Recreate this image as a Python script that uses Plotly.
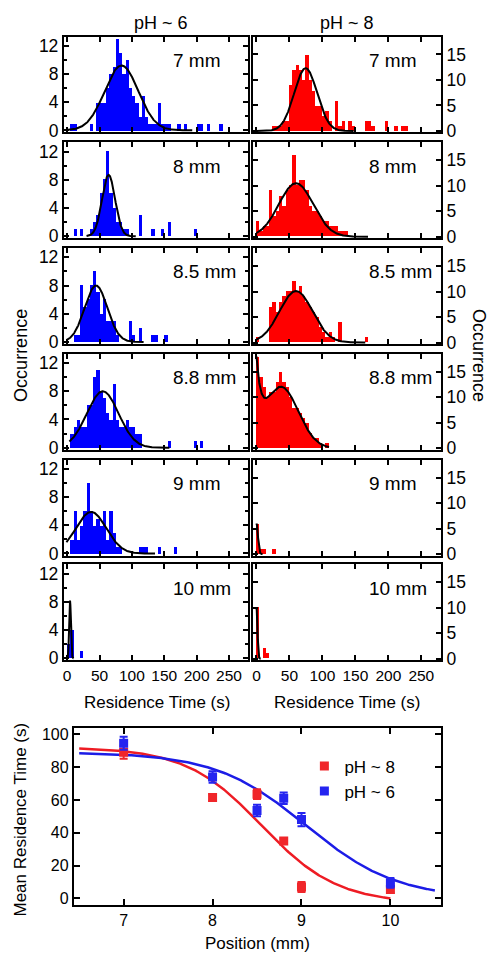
import numpy as np
import plotly.graph_objects as go

# ---------------- data ----------------
BIN_W = 5  # s, histogram bin width (bins start at 0)
positions = ["7 mm", "8 mm", "8.5 mm", "8.8 mm", "9 mm", "10 mm"]

# occurrence per 5 s bin, pH ~ 6 (blue)
ph6_7 = [0, 1, 1, 0, 0, 0, 0, 1, 0, 4, 4, 4, 6, 8, 9, 13, 11, 8, 10, 6,
         5, 4, 2, 5, 2, 1, 1, 1, 4, 1, 1, 1, 0, 0, 1, 0, 1, 0, 0, 0,
         1, 1, 0, 1, 0, 0, 0, 1]
ph6_8 = [0, 0, 1, 0, 1, 0, 0, 1, 2, 3, 6, 8, 12, 6, 4, 2, 2, 1, 1, 0,
         0, 0, 3, 0, 0, 0, 1, 0, 0, 1, 0, 2, 0, 0, 0, 0, 0, 0, 0, 1]
ph6_85 = [0, 0, 1, 1, 8, 5, 6, 8, 10, 7, 4, 6, 3, 3, 3, 1, 0, 0, 0, 3,
          1, 0, 2, 0, 0, 0, 1, 1, 0, 0, 1]
ph6_88 = [0, 2, 3, 4, 3, 3, 6, 6, 10, 11, 8, 7, 5, 4, 9, 4, 3, 3, 4, 3,
          3, 2, 2, 0, 0, 0, 0, 0, 0, 0, 0, 1, 0, 0, 0, 0, 0, 0, 0, 1,
          0, 1]
ph6_9 = [0, 2, 6, 2, 4, 6, 10, 6, 4, 5, 4, 6, 2, 6, 3, 1, 1, 0, 0, 0,
         0, 0, 1, 1, 1, 0, 0, 0, 1, 0, 0, 0, 0, 1]
ph6_10 = [2, 4, 0, 0, 1]

# occurrence per 5 s bin, pH ~ 8 (red)
ph8_7 = [0, 0, 0, 0, 0, 1, 1, 1, 2, 2, 9, 12, 13, 12, 10, 15, 10, 8, 5, 5,
         3, 4, 2, 0, 6, 1, 2, 0, 2, 1, 0, 0, 0, 2, 2, 1, 0, 0, 0, 2,
         0, 0, 1, 0, 1, 1]
ph8_8 = [3, 1, 2, 2, 9, 4, 5, 8, 6, 9, 10, 16, 10, 11, 11, 9, 6, 5, 5, 4,
         3, 3, 2, 2, 2, 1, 1, 1]
ph8_85 = [1, 0, 0, 0, 7, 8, 6, 8, 9, 10, 10, 12, 10, 11, 9, 8, 7, 6, 5, 3,
          2, 1, 2, 1, 0, 4, 0, 0, 0, 0, 0, 0, 0, 1]
ph8_88 = [18, 14, 12, 10, 11, 11, 13, 15, 13, 12, 10, 8, 8, 7, 6, 5, 3, 2, 2, 1,
          0, 1]
ph8_9 = [6, 1, 1, 0, 0, 1]
ph8_10 = [10, 0, 2, 1]

ph6_hists = [ph6_7, ph6_8, ph6_85, ph6_88, ph6_9, ph6_10]
ph8_hists = [ph8_7, ph8_8, ph8_85, ph8_88, ph8_9, ph8_10]

# Gaussian fit parameters (center s, sigma s, amplitude)
ph6_fit_center = [84, 64, 44.6, 55, 37, 4.5]
ph6_fit_sigma = [26, 10, 17.5, 24.5, 23.5, 1.3]
ph6_fit_amp = [9.2, 8.7, 8.0, 8.0, 5.9, 8.2]
ph6_fit_start = [-1, 30, -1, 3.5, -1, 0]
ph8_fit_center = [74.6, 60, 60, 37.5, 0, 0]
ph8_fit_sigma = [17.3, 26, 25, 26, 2.2, 1.5]
ph8_fit_amp = [12.3, 10.5, 10.1, 12.0, 6.0, 10.0]
ph8_fit_start = [0, 0, 0, 0, 0, 0]
ph8_88_decay_amp = 13.8
ph8_88_decay_tau = 7.0

# Mean residence time vs position
pos_mm = [7, 8, 8.5, 8.8, 9, 10]
mean_ph8 = [89, 61.5, 63.5, 35, 7, 5.5]
err_ph8 = [4, 2, 3, 1.5, 3, 2]
mean_ph6 = [94.5, 74, 53.5, 61, 48, 9.5]
err_ph6 = [4, 3.5, 3.5, 3.5, 4, 3]
# Boltzmann sigmoid fits: (A1, A2, x0, dx, x_start, x_end)
sig_ph8 = (92, -3, 8.55, 0.426, 6.5, 10.0)
sig_ph6 = (89, 0, 9.05, 0.51, 6.5, 10.5)

# ---------------- styling ----------------
FONT = "Arial, Liberation Sans, sans-serif"
BLUE = "#0000FF"
RED = "#FF0000"
W, H = 490, 962


def px_x(p):
    return p / W


def px_y(p):
    return 1 - p / H


def gauss(x, c, s, a):
    return a * np.exp(-(x - c) ** 2 / (2 * s ** 2))


def boltz(x, a1, a2, x0, dx):
    return a2 + (a1 - a2) / (1 + np.exp((x - x0) / dx))


def ax_ids(n):
    s = "" if n == 1 else str(n)
    return "x" + s, "y" + s, "xaxis" + s, "yaxis" + s


fig = go.Figure()
layout = dict(width=W, height=H, margin=dict(l=0, r=0, t=0, b=0),
              paper_bgcolor="white", plot_bgcolor="white", bargap=0,
              font=dict(family=FONT, color="black"), showlegend=True)
annotations = []

col_dom = [(px_x(63), px_x(248)), (px_x(253), px_x(441))]
row_tops = [35, 142, 249, 356, 463, 569]
PANEL_H = 97

for row in range(6):
    for col in range(2):
        n = 2 * row + col + 1
        xs, ys, xk, yk = ax_ids(n)
        counts = (ph6_hists if col == 0 else ph8_hists)[row]
        centers = [BIN_W * i + BIN_W / 2 for i in range(len(counts))]
        color = BLUE if col == 0 else RED
        fig.add_trace(go.Bar(x=centers, y=counts, width=BIN_W, marker_color=color,
                             marker_line_width=0, xaxis=xs, yaxis=ys, showlegend=False))
        if col == 0:
            c, s, a, st = ph6_fit_center[row], ph6_fit_sigma[row], ph6_fit_amp[row], ph6_fit_start[row]
        else:
            c, s, a, st = ph8_fit_center[row], ph8_fit_sigma[row], ph8_fit_amp[row], ph8_fit_start[row]
        xe = c + 4.2 * s if (row != 3 or col == 0) else 110
        xf = np.linspace(st, xe, 400)
        yf = gauss(xf, c, s, a)
        if row == 3 and col == 1:
            yf = yf + ph8_88_decay_amp * np.exp(-xf / ph8_88_decay_tau)
        fig.add_trace(go.Scatter(x=xf, y=yf, mode="lines", line=dict(color="black", width=2),
                                 xaxis=xs, yaxis=ys, showlegend=False, hoverinfo="skip"))

        top = row_tops[row]
        xd = col_dom[col]
        yd = (px_y(top + PANEL_H), px_y(top))
        bottom_row = row == 5
        layout[xk] = dict(
            domain=list(xd), anchor=ys, range=[-5, 280] if col == 0 else [-4.5, 280],
            showline=True, linewidth=2, linecolor="black", mirror="ticks",
            ticks="inside", ticklen=5, tickwidth=1.5, tickcolor="black",
            tick0=0, dtick=50, showticklabels=bottom_row,
            tickfont=dict(size=15.5, family=FONT), showgrid=False, zeroline=False)
        ydict = dict(
            domain=list(yd), anchor=xs,
            range=[-0.3, 13.3] if col == 0 else [-0.3, 18.5],
            side="left" if col == 0 else "right",
            showline=True, linewidth=2, linecolor="black", mirror="ticks",
            ticks="inside", ticklen=5, tickwidth=1.5, tickcolor="black",
            tick0=0, dtick=4 if col == 0 else 5,
            tickfont=dict(size=17.5, family=FONT), showgrid=False, zeroline=False)
        if col == 0:
            ydict["minor"] = dict(dtick=2, ticks="inside", ticklen=3, tickwidth=1.5, tickcolor="black")
        layout[yk] = ydict

        annotations.append(dict(text=positions[row], xref=xs + " domain", yref=ys + " domain",
                                x=0.578 if col == 0 else 0.606, y=1 - 24 / PANEL_H,
                                xanchor="left", yanchor="middle", showarrow=False,
                                font=dict(size=19, family=FONT)))

# ---------------- bottom chart ----------------
xf = np.linspace(sig_ph8[4], sig_ph8[5], 300)
fig.add_trace(go.Scatter(x=xf, y=boltz(xf, *sig_ph8[:4]), mode="lines",
                         line=dict(color="#EE1C24", width=2.5), xaxis="x13", yaxis="y13",
                         showlegend=False, hoverinfo="skip"))
xf = np.linspace(sig_ph6[4], sig_ph6[5], 300)
fig.add_trace(go.Scatter(x=xf, y=boltz(xf, *sig_ph6[:4]), mode="lines",
                         line=dict(color="#1C1CE6", width=2.5), xaxis="x13", yaxis="y13",
                         showlegend=False, hoverinfo="skip"))
fig.add_trace(go.Scatter(x=pos_mm, y=mean_ph8, mode="markers", name="pH ~ 8",
                         marker=dict(symbol="square", size=9, color="#F0262A"),
                         error_y=dict(type="data", array=err_ph8, color="#F0262A", thickness=2, width=4),
                         xaxis="x13", yaxis="y13"))
fig.add_trace(go.Scatter(x=pos_mm, y=mean_ph6, mode="markers", name="pH ~ 6",
                         marker=dict(symbol="square", size=9, color="#2424F0"),
                         error_y=dict(type="data", array=err_ph6, color="#2424F0", thickness=2, width=4),
                         xaxis="x13", yaxis="y13"))

layout["xaxis13"] = dict(domain=[px_x(73), px_x(441)], anchor="y13", range=[6.44, 10.57],
                         showline=True, linewidth=2, linecolor="black", mirror="ticks",
                         ticks="inside", ticklen=6, tickwidth=1.5, tickcolor="black",
                         tick0=7, dtick=1, tickfont=dict(size=16, family=FONT),
                         showgrid=False, zeroline=False)
layout["yaxis13"] = dict(domain=[px_y(913), px_y(734)], anchor="x13", range=[-3.7, 104],
                         showline=True, linewidth=2, linecolor="black", mirror="ticks",
                         ticks="inside", ticklen=6, tickwidth=1.5, tickcolor="black",
                         tick0=0, dtick=20, tickfont=dict(size=16, family=FONT),
                         showgrid=False, zeroline=False)
layout["legend"] = dict(x=px_x(304), y=px_y(755), xanchor="left", yanchor="top",
                        bgcolor="rgba(0,0,0,0)", font=dict(size=17, family=FONT),
                        tracegroupgap=0, itemwidth=30)


# ---------------- texts ----------------
def ann(text, x, y, size, angle=0):
    annotations.append(dict(text=text, xref="paper", yref="paper", x=px_x(x), y=px_y(y),
                            xanchor="center", yanchor="middle", showarrow=False,
                            textangle=angle, font=dict(size=size, family=FONT)))


ann("pH ~ 6", 160, 21, 18)
ann("pH ~ 8", 347, 21, 18)
ann("Occurrence", 20, 357, 18, -90)
ann("Occurrence", 479, 357, 18, 90)
ann("Residence Time (s)", 156, 709, 17)
ann("Residence Time (s)", 347, 709, 17)
ann("Mean Residence Time (s)", 20, 827, 17, -90)
ann("Position (mm)", 257, 952, 17)

layout["annotations"] = annotations
fig.update_layout(**layout)
fig.write_html("out.html")
